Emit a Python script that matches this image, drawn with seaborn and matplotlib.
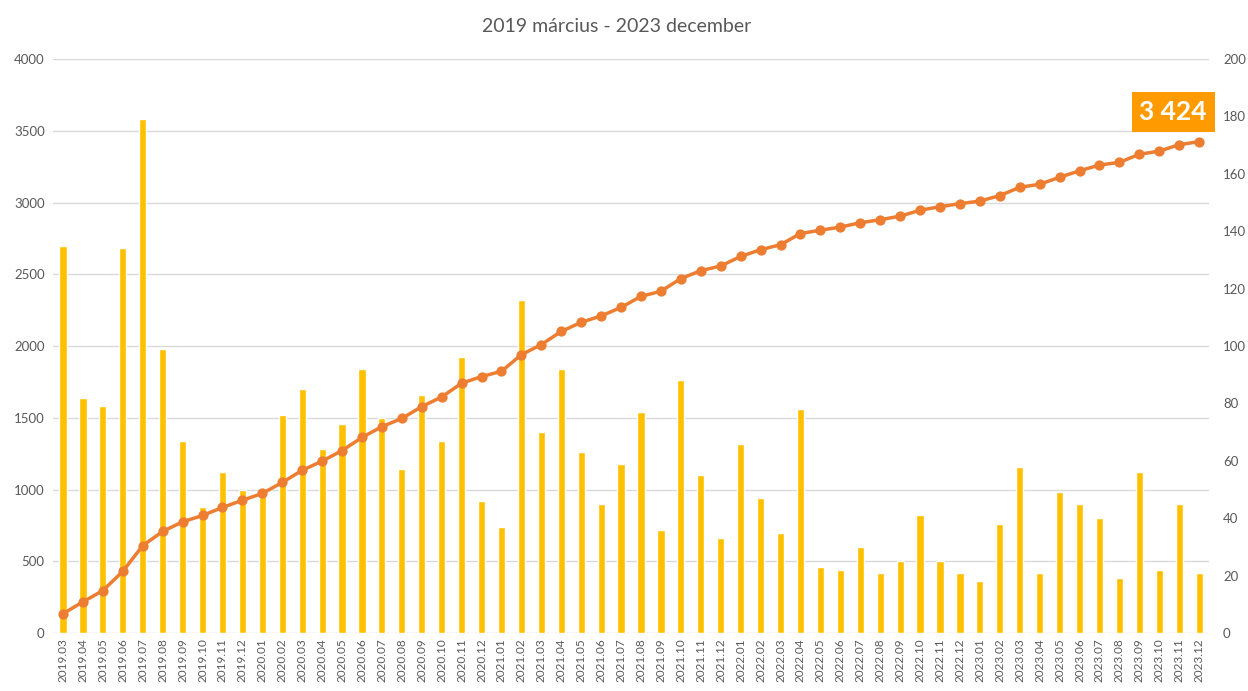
import numpy as np
import pandas as pd
import matplotlib
matplotlib.use("Agg")
import matplotlib.pyplot as plt
import seaborn as sns

# ---- data ----
months = [
    "2019.03", "2019.04", "2019.05", "2019.06", "2019.07", "2019.08", "2019.09", "2019.10", "2019.11", "2019.12",
    "2020.01", "2020.02", "2020.03", "2020.04", "2020.05", "2020.06", "2020.07", "2020.08", "2020.09", "2020.10", "2020.11", "2020.12",
    "2021.01", "2021.02", "2021.03", "2021.04", "2021.05", "2021.06", "2021.07", "2021.08", "2021.09", "2021.10", "2021.11", "2021.12",
    "2022.01", "2022.02", "2022.03", "2022.04", "2022.05", "2022.06", "2022.07", "2022.08", "2022.09", "2022.10", "2022.11", "2022.12",
    "2023.01", "2023.02", "2023.03", "2023.04", "2023.05", "2023.06", "2023.07", "2023.08", "2023.09", "2023.10", "2023.11", "2023.12",
]
monthly = [
    135, 82, 79, 134, 179, 99, 67, 44, 56, 50,
    48, 76, 85, 64, 73, 92, 75, 57, 83, 67, 96, 46,
    37, 116, 70, 92, 63, 45, 59, 77, 36, 88, 55, 33,
    66, 47, 35, 78, 23, 22, 30, 21, 25, 41, 25, 21,
    18, 38, 58, 21, 49, 45, 40, 19, 56, 22, 45, 21,
]
cumulative = [
    135, 217, 296, 430, 609, 708, 775, 819, 875, 925,
    973, 1049, 1134, 1198, 1271, 1363, 1438, 1495, 1578, 1645, 1741, 1787,
    1824, 1940, 2010, 2102, 2165, 2210, 2269, 2346, 2382, 2470, 2525, 2558,
    2624, 2671, 2706, 2784, 2807, 2829, 2859, 2880, 2905, 2946, 2971, 2992,
    3010, 3048, 3106, 3127, 3176, 3221, 3261, 3280, 3336, 3358, 3403, 3424,
]
left_ticks = [0, 500, 1000, 1500, 2000, 2500, 3000, 3500, 4000]
right_ticks = [0, 20, 40, 60, 80, 100, 120, 140, 160, 180, 200]
title = "2019 március - 2023 december"
total_label = "3 424"

df = pd.DataFrame({"month": months, "monthly": monthly, "cumulative": cumulative})

# ---- style ----
sns.set_theme(style="white")
plt.rcParams["font.family"] = ["Lato", "DejaVu Sans"]
txt_color = "#595959"
bar_color = "#FFC000"
line_color = "#ED7D31"
box_color = "#FF9A00"

fig = plt.figure(figsize=(12.48, 6.91), dpi=100)
ax = fig.add_axes([0.0425, 0.0839, 0.9263, 0.8307])
ax2 = ax.twinx()
ax3 = ax.twinx()
ax.set_zorder(0)
ax2.set_zorder(1)
ax3.set_zorder(2)
for a in (ax2, ax3):
    a.patch.set_visible(False)

# bars: monthly values, right axis
sns.barplot(data=df, x="month", y="monthly", color=bar_color, width=0.36,
            saturation=1, ax=ax2, zorder=2)
# line: cumulative, left scale
sns.pointplot(data=df, x="month", y="cumulative", color=line_color,
              markers="o", linewidth=2.5, markersize=5.5, errorbar=None, ax=ax3)

n = len(months)
for a in (ax, ax2, ax3):
    a.set_xlim(-0.5, n - 0.5)
    a.set_xlabel("")
    a.set_ylabel("")
    for s in a.spines.values():
        s.set_visible(False)
ax.set_ylim(0, 4000)
ax3.set_ylim(0, 4000)
ax2.set_ylim(0, 200)

ax.set_yticks(left_ticks)
ax.set_yticklabels([str(v) for v in left_ticks], color=txt_color, fontsize=9.5)
ax2.set_yticks(right_ticks)
ax2.set_yticklabels([str(v) for v in right_ticks], color=txt_color, fontsize=9.5)
ax3.set_yticks([])
ax.yaxis.grid(True, color="#D9D9D9", linewidth=1.0)
ax.xaxis.grid(False)
ax.set_xticks(range(n))
ax.set_xticklabels(months, rotation=90, color=txt_color, fontsize=8.5)
ax.tick_params(axis="both", length=0, pad=6)
ax2.tick_params(axis="y", length=0, pad=10)
ax.tick_params(axis="x", pad=4)

ax3.annotate(total_label, xy=(55.7, 3630), xycoords="data", ha="center", va="center",
             fontsize=19, fontweight="bold", color="white",
             bbox=dict(boxstyle="square,pad=0.3", facecolor=box_color, edgecolor="none"))

fig.text(0.494, 0.962, title, ha="center", va="center", fontsize=14, color=txt_color)

fig.savefig("out.png", dpi=100)
